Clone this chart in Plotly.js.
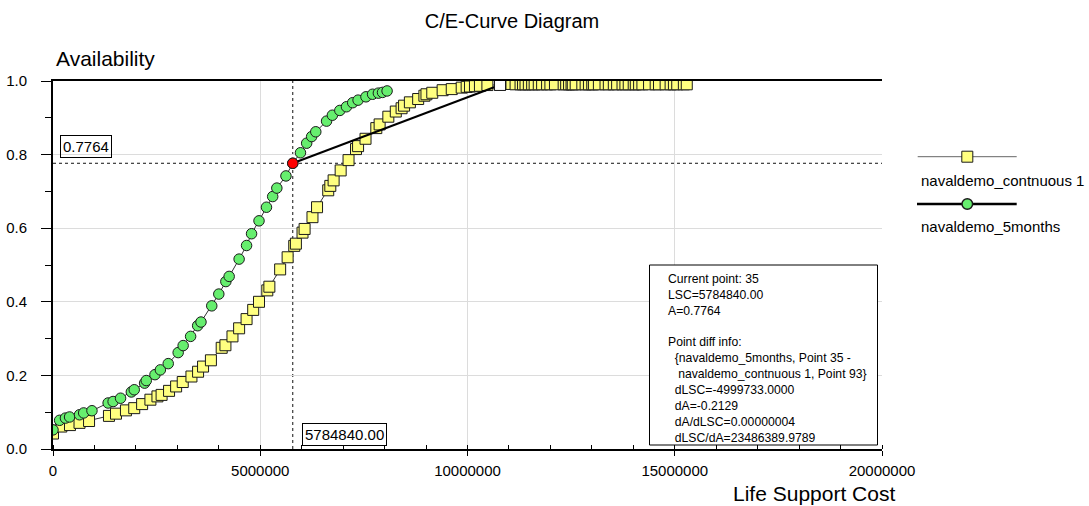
<!DOCTYPE html>
<html>
<head>
<meta charset="utf-8">
<script src="https://cdn.plot.ly/plotly-3.0.1.min.js"></script>
<style>html,body{margin:0;padding:0;background:#fff;}#chart{width:1089px;height:506px;}</style>
</head>
<body>
<div id="chart"></div>
<script>
// ---- data ----
const seriesNames = ["navaldemo_contnuous 1", "navaldemo_5months"];

const contX = [0, 200000, 410000, 640000, 870000, 1350000, 1520000, 1760000, 1960000, 2150000,
  2350000, 2520000, 2620000, 2800000, 2970000, 3130000, 3340000, 3500000, 3620000, 3810000,
  4070000, 4160000, 4330000, 4490000, 4670000, 4830000, 4970000, 5170000, 5220000, 5480000,
  5660000, 5820000, 5860000, 6020000, 6070000, 6260000, 6370000, 6640000, 6690000, 6770000,
  6940000, 7130000, 7310000, 7360000, 7540000, 7800000, 7880000, 8090000, 8270000, 8410000,
  8470000, 8610000, 8810000, 8960000, 9010000, 9150000, 9400000, 9620000, 9860000, 9980000,
  10060000, 10180000, 10300000, 10480000, 10784573, 11060000,
  11160000, 11280000, 11340000, 11400000, 11480000, 11560000, 11620000, 11720000, 11800000, 11920000,
  12000000, 12110000, 12320000, 12380000, 12450000, 12510000, 12540000, 12610000, 12770000, 12850000,
  12930000, 13010000, 13050000, 13170000, 13330000, 13410000, 13530000, 13610000, 13740000, 13810000,
  13890000, 14010000, 14060000, 14140000, 14220000, 14380000, 14540000, 14620000, 14780000, 14900000,
  14980000, 15060000, 15220000, 15290000];
const contA = [0.042, 0.061, 0.065, 0.071, 0.076, 0.090, 0.096, 0.105, 0.111, 0.122,
  0.134, 0.143, 0.147, 0.158, 0.170, 0.182, 0.197, 0.210, 0.224, 0.241,
  0.275, 0.282, 0.306, 0.328, 0.353, 0.378, 0.400, 0.431, 0.441, 0.488,
  0.521, 0.552, 0.558, 0.588, 0.598, 0.630, 0.657, 0.703, 0.715, 0.730,
  0.757, 0.785, 0.815, 0.823, 0.843, 0.872, 0.882, 0.903, 0.917, 0.926,
  0.933, 0.942, 0.951, 0.960, 0.964, 0.968, 0.975, 0.978, 0.982, 0.984,
  0.985, 0.986, 0.987, 0.989, 0.9893, 0.992,
  0.991, 0.991, 0.991, 0.991, 0.991, 0.991, 0.991, 0.991, 0.991, 0.991,
  0.991, 0.991, 0.991, 0.991, 0.991, 0.991, 0.991, 0.991, 0.991, 0.991,
  0.991, 0.991, 0.991, 0.991, 0.991, 0.991, 0.991, 0.991, 0.991, 0.991,
  0.991, 0.991, 0.991, 0.991, 0.991, 0.991, 0.991, 0.991, 0.991, 0.991,
  0.991, 0.991, 0.991, 0.991];

const monthsX = [0, 160000, 300000, 400000, 640000, 740000, 940000, 1330000, 1450000, 1630000,
  1890000, 1960000, 2210000, 2250000, 2460000, 2590000, 2780000, 3020000, 3140000, 3320000,
  3490000, 3570000, 3830000, 4000000, 4170000, 4250000, 4490000, 4670000, 4790000, 4970000,
  5150000, 5300000, 5400000, 5620000, 5784840, 5970000, 6120000, 6240000, 6340000, 6600000,
  6740000, 6920000, 7080000, 7230000, 7360000, 7550000, 7710000, 7850000, 7950000, 8060000];
const monthsA = [0.052, 0.078, 0.084, 0.087, 0.093, 0.098, 0.104, 0.125, 0.129, 0.138,
  0.155, 0.161, 0.179, 0.186, 0.202, 0.215, 0.232, 0.262, 0.281, 0.306,
  0.335, 0.345, 0.389, 0.421, 0.455, 0.469, 0.516, 0.553, 0.585, 0.620,
  0.657, 0.686, 0.709, 0.742, 0.7764, 0.805, 0.831, 0.849, 0.862, 0.891,
  0.907, 0.920, 0.930, 0.941, 0.948, 0.957, 0.964, 0.967, 0.969, 0.973];

const currentIndex = [34];        // current point (label 35)
const pointDiff = [-4999733.0, -0.2129];  // dLSC, dA
const xTickVals = [0, 5000000, 10000000, 15000000, 20000000];
const yTickVals = [0, 0.2, 0.4, 0.6, 0.8, 1.0];
const infoLines = [
  "Current point: 35",
  "LSC=5784840.00",
  "A=0.7764",
  "",
  "Point diff info:",
  "\u00A0\u00A0{navaldemo_5months, Point 35 -",
  "\u00A0\u00A0\u00A0navaldemo_contnuous 1, Point 93}",
  "\u00A0\u00A0dLSC=-4999733.0000",
  "\u00A0\u00A0dA=-0.2129",
  "\u00A0\u00A0dA/dLSC=0.00000004",
  "\u00A0\u00A0dLSC/dA=23486389.9789"
];

// ---- derived ----
const ci = currentIndex[0];
const curX = monthsX[ci], curA = monthsA[ci];
const diffX = curX - pointDiff[0], diffA = curA - pointDiff[1];

// pixel helpers for layout placement
const W = 1089, H = 506, ML = 53, MR = 207, MT = 81, MB = 57;
const PW = W - ML - MR, PH = H - MT - MB;
const xp = px => (px - ML) / PW;
const yp = py => (H - MB - py) / PH;

const FONT = '"Liberation Sans", Arial, sans-serif';
const YELLOW = '#FFFF80', GREEN = '#66EE6E', EDGE = '#1a1a1a';

const traces = [
  { x: contX, y: contA, type: 'scatter', mode: 'lines+markers', name: seriesNames[0],
    line: { color: '#333', width: 1 },
    marker: { symbol: 'square', size: 11, color: YELLOW, line: { color: EDGE, width: 1 } },
    showlegend: false, hoverinfo: 'x+y' },
  { x: monthsX, y: monthsA, type: 'scatter', mode: 'lines+markers', name: seriesNames[1],
    line: { color: '#333', width: 1 },
    marker: { symbol: 'circle', size: 10.5, color: GREEN, line: { color: EDGE, width: 1 } },
    showlegend: false, hoverinfo: 'x+y' },
  { x: [curX, diffX], y: [curA, diffA], type: 'scatter', mode: 'lines',
    line: { color: '#000', width: 2 }, showlegend: false, hoverinfo: 'skip' },
  { x: [diffX], y: [diffA], type: 'scatter', mode: 'markers',
    marker: { symbol: 'square', size: 11, color: '#ffffff', line: { color: EDGE, width: 1 } },
    showlegend: false, hoverinfo: 'skip' },
  { x: [curX], y: [curA], type: 'scatter', mode: 'markers',
    marker: { symbol: 'circle', size: 10.5, color: '#FF0000', line: { color: EDGE, width: 1 } },
    showlegend: false, hoverinfo: 'skip' }
];

const shapes = [
  { type: 'line', xref: 'x', yref: 'paper', x0: curX, x1: curX, y0: 0, y1: 1,
    line: { color: '#111', width: 1, dash: 'dot' }, layer: 'below' },
  { type: 'line', xref: 'paper', yref: 'y', x0: 0, x1: 1, y0: curA, y1: curA,
    line: { color: '#111', width: 1, dash: 'dot' }, layer: 'below' },
  { type: 'rect', xref: 'paper', yref: 'paper', x0: xp(649.5), x1: xp(877.5), y0: yp(445), y1: yp(265),
    line: { color: '#000', width: 1 }, fillcolor: '#fff' },
  // legend samples
  { type: 'line', xref: 'paper', yref: 'paper', x0: xp(917.7), x1: xp(1016.7), y0: yp(156.7), y1: yp(156.7),
    line: { color: '#666', width: 1 } },
  { type: 'rect', xref: 'paper', yref: 'paper', x0: xp(961.8), x1: xp(972.8), y0: yp(162.2), y1: yp(151.2),
    line: { color: EDGE, width: 1 }, fillcolor: YELLOW },
  { type: 'line', xref: 'paper', yref: 'paper', x0: xp(917), x1: xp(1016.7), y0: yp(204), y1: yp(204),
    line: { color: '#000', width: 2.5 } },
  { type: 'circle', xref: 'paper', yref: 'paper', x0: xp(962), x1: xp(972.6), y0: yp(209.3), y1: yp(198.7),
    line: { color: EDGE, width: 1.5 }, fillcolor: GREEN }
];

const annotations = [
  { text: 'Availability', xref: 'paper', yref: 'paper', x: xp(54), y: yp(58), xanchor: 'left', yanchor: 'middle',
    showarrow: false, font: { family: FONT, size: 21, color: '#000' } },
  { text: 'Life Support Cost', xref: 'paper', yref: 'paper', x: xp(897), y: yp(493), xanchor: 'right', yanchor: 'middle',
    showarrow: false, font: { family: FONT, size: 21, color: '#000' } },
  { text: curA.toFixed(4), xref: 'paper', yref: 'paper', x: xp(60), y: yp(146.5), xanchor: 'left', yanchor: 'middle',
    showarrow: false, font: { family: FONT, size: 15, color: '#000' },
    bordercolor: '#000', borderwidth: 1, borderpad: 2, bgcolor: 'rgba(255,255,255,0)' },
  { text: curX.toFixed(2), xref: 'paper', yref: 'paper', x: xp(301.7), y: yp(434), xanchor: 'left', yanchor: 'middle',
    showarrow: false, font: { family: FONT, size: 15, color: '#000' },
    bordercolor: '#000', borderwidth: 1, borderpad: 2, bgcolor: 'rgba(255,255,255,0)' },
  { text: infoLines.join('<br>'), xref: 'paper', yref: 'paper', x: xp(666), y: yp(269.5), xanchor: 'left', yanchor: 'top',
    align: 'left', showarrow: false, font: { family: FONT, size: 12.2, color: '#000' } },
  { text: seriesNames[0], xref: 'paper', yref: 'paper', x: xp(918.5), y: yp(180), xanchor: 'left', yanchor: 'middle',
    showarrow: false, font: { family: FONT, size: 15, color: '#000' } },
  { text: seriesNames[1], xref: 'paper', yref: 'paper', x: xp(918.5), y: yp(226.7), xanchor: 'left', yanchor: 'middle',
    showarrow: false, font: { family: FONT, size: 15, color: '#000' } }
];

const layout = {
  width: W, height: H,
  margin: { l: ML, r: MR, t: MT, b: MB, pad: 0 },
  paper_bgcolor: '#fff', plot_bgcolor: '#fff',
  font: { family: FONT, color: '#000' },
  title: { text: 'C/E-Curve Diagram', xref: 'container', yref: 'container',
    x: 512 / W, y: 1 - 20.7 / H, xanchor: 'center', yanchor: 'middle',
    font: { family: FONT, size: 20, color: '#000' } },
  showlegend: false,
  xaxis: {
    range: [0, 20000000], tickmode: 'array', tickvals: xTickVals, tickformat: 'd',
    showline: true, linecolor: '#000', linewidth: 2, mirror: true,
    showgrid: true, gridcolor: '#dcdcdc', gridwidth: 1, zeroline: false,
    ticks: 'outside', ticklen: 5, tickcolor: '#000', tickwidth: 1, ticklabelstandoff: 2,
    tickfont: { family: FONT, size: 15, color: '#000' },
    minor: { dtick: 1000000, tick0: 0, ticks: 'inside', ticklen: 4, tickcolor: '#000', showgrid: false },
    fixedrange: true
  },
  yaxis: {
    range: [0, 1], tickmode: 'array', tickvals: yTickVals, tickformat: '.1f',
    showline: true, linecolor: '#000', linewidth: 2, mirror: false,
    showgrid: true, gridcolor: '#dcdcdc', gridwidth: 1, zeroline: false,
    ticks: 'outside', ticklen: 10, tickcolor: '#000', tickwidth: 1, ticklabelstandoff: 11,
    tickfont: { family: FONT, size: 15, color: '#000' },
    minor: { dtick: 0.1, tick0: 0, ticks: 'outside', ticklen: 6, tickcolor: '#000', showgrid: false },
    fixedrange: true
  },
  shapes: shapes,
  annotations: annotations
};

Plotly.newPlot('chart', traces, layout, { displayModeBar: false, staticPlot: true });
</script>
</body>
</html>
